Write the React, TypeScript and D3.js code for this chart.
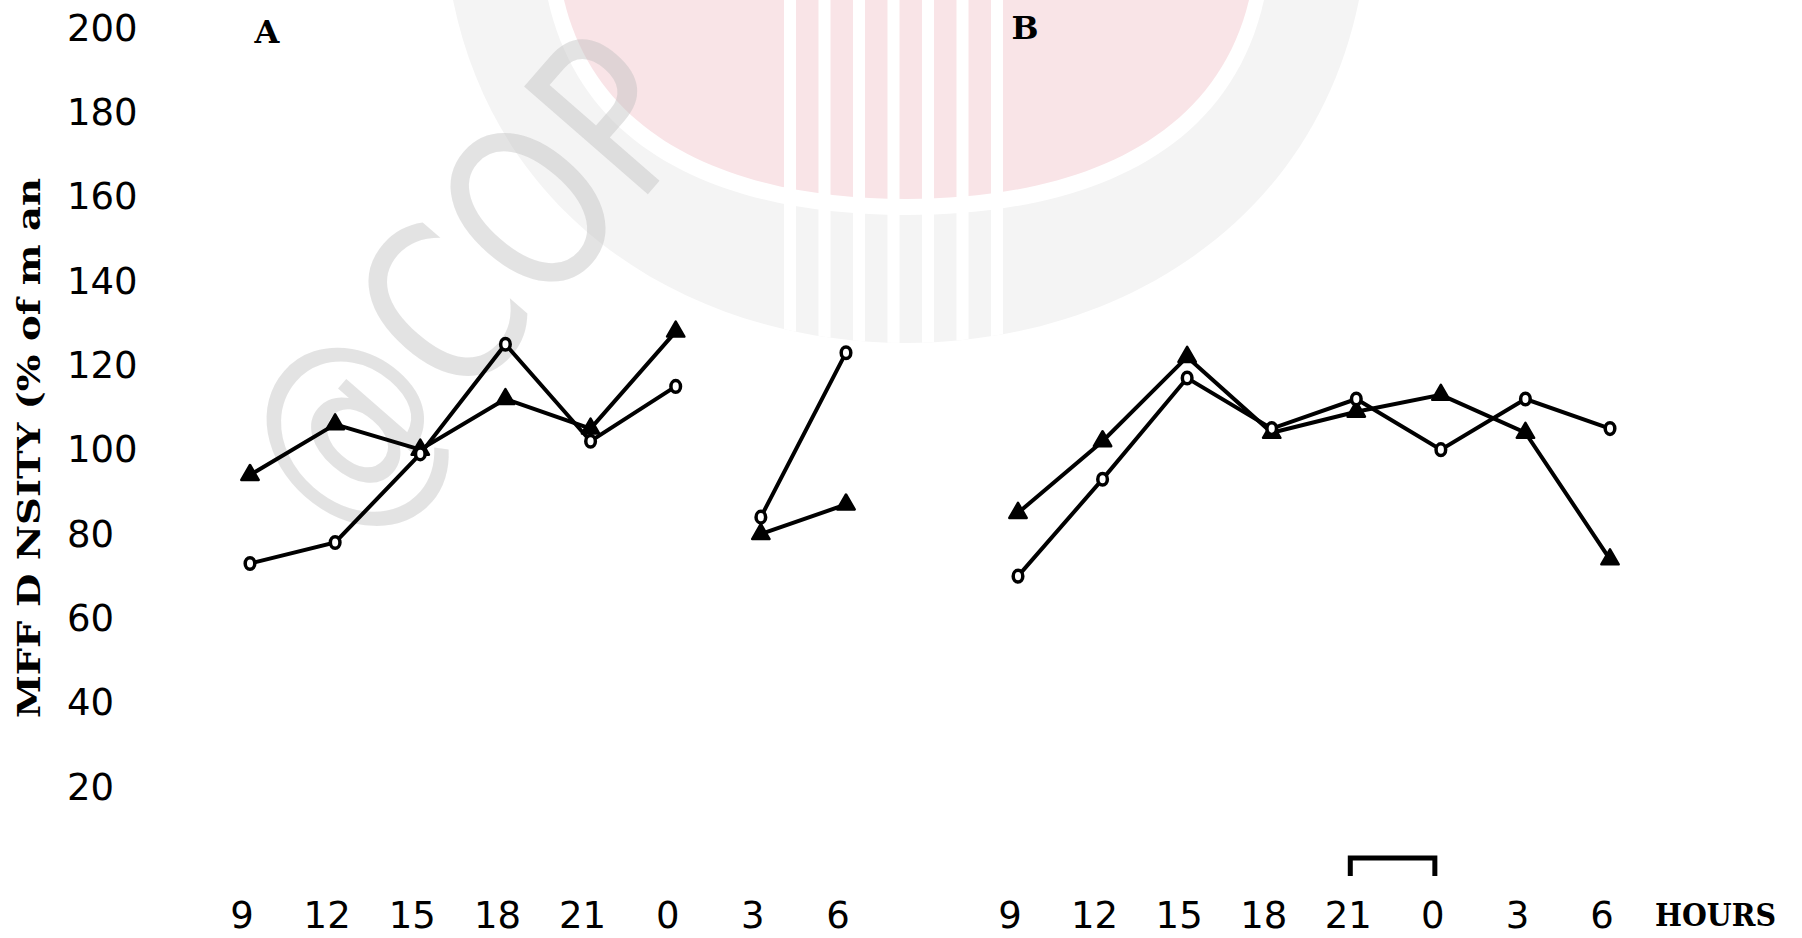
import * as d3 from 'd3'

// hour labels along the x axis (both panels)
const hours = ['9', '12', '15', '18', '21', '0', '3', '6']
const yTicks = [20, 40, 60, 80, 100, 120, 140, 160, 180, 200]

// panel A, line is broken between 0 and 3
const triA = [94, 106, 100, 112, 105, 128, 80, 87]
const circA = [73, 78, 99, 125, 102, 115, 84, 123]
const breakA = ['0']

// panel B
const triB = [85, 102, 122, 104, 109, 113, 104, 74]
const circB = [70, 93, 117, 105, 112, 100, 112, 105]
const breakB: string[] = []

const yTitle = 'MFF D NSITY (% of m an'
const hoursTitle = 'HOURS'
const wmText = '@COP'

const W = 1802
const H = 938

const y = d3.scaleLinear().domain([20, 200]).range([787, 28])
const xA = d3.scalePoint<string>().domain(hours).range([250, 846])
const xB = d3.scalePoint<string>().domain(hours).range([1018, 1610])

const numFont = '"DejaVu Sans", sans-serif'
const typeFont = '"DejaVu Serif", "Liberation Serif", serif'

type Pt = [string, number]

// split a series into runs, cutting after each hour in breaks
function runs(vals: number[], breaks: string[]): Pt[][] {
  const out: Pt[][] = [[]]
  hours.forEach((h, i) => {
    out[out.length - 1].push([h, vals[i]])
    if (breaks.includes(h) && i < hours.length - 1) out.push([])
  })
  return out
}

const triPath = d3.symbol().type(d3.symbolTriangle).size(130)()

function Panel({ x, tri, circ, breaks }: { x: d3.ScalePoint<string>; tri: number[]; circ: number[]; breaks: string[] }) {
  const line = d3
    .line<Pt>()
    .x((d) => x(d[0]) as number)
    .y((d) => y(d[1]))
  return (
    <g>
      {[tri, circ].map((s, k) =>
        runs(s, breaks).map((r, j) => (
          <path key={k + '-' + j} d={line(r) || ''} fill="none" stroke="#000" strokeWidth={4} strokeLinecap="round" />
        ))
      )}
      {tri.map((v, i) => (
        <path key={'t' + i} d={triPath || ''} transform={`translate(${x(hours[i])},${y(v)})`} fill="#000" stroke="#000" strokeWidth={2.5} strokeLinejoin="round" />
      ))}
      {circ.map((v, i) => (
        <ellipse key={'c' + i} cx={x(hours[i])} cy={y(v)} rx={4.8} ry={5.8} fill="#fff" stroke="#000" strokeWidth={3.5} />
      ))}
      {hours.map((h) => (
        <text key={'x' + h} x={(x(h) as number) - 8} y={915} textAnchor="middle" dominantBaseline="central" fontFamily={numFont} fontSize={37}>
          {h}
        </text>
      ))}
    </g>
  )
}

// faint shield watermark behind the chart
function shield(l: number, r: number, bottom: number, cx: number, cy: number) {
  const m = (l + r) / 2
  return `M${l},0C${l + cx},${cy} ${m - (m - l) * 0.45},${bottom} ${m},${bottom}C${m + (r - m) * 0.45},${bottom} ${r - cx},${cy} ${r},0Z`
}

function Watermark() {
  const stripes = d3.range(7).map((i) => 784 + i * 34.5)
  const outer = shield(453, 1359, 343, 47, 230)
  return (
    <g>
      <defs>
        <clipPath id="wm-clip">
          <path d={outer} />
        </clipPath>
      </defs>
      <path d={outer} fill="#f4f4f4" />
      <path d={shield(548, 1264, 215, 37, 165)} fill="#fff" />
      <path d={shield(564, 1249, 199, 36, 150)} fill="#f9e4e7" />
      <g clipPath="url(#wm-clip)">
        {stripes.map((s) => (
          <rect key={s} x={s} y={0} width={12} height={400} fill="#fff" />
        ))}
      </g>
      <text
        transform="translate(284,494) rotate(-49) scale(1,1.25)"
        fontFamily={numFont}
        fontSize={180}
        dominantBaseline="central"
        fill="#bdbdbd"
        fillOpacity={0.42}
      >
        {wmText}
      </text>
    </g>
  )
}

export default function App() {
  const b0 = (xB('21') as number) - 6
  const b1 = (xB('0') as number) - 6
  return (
    <svg width={W} height={H} style={{ position: 'absolute', left: 0, top: 0, display: 'block', background: '#fff' }}>
      <rect width={W} height={H} fill="#fff" />
      <Watermark />

      {yTicks.map((t) => (
        <text key={t} x={67} y={y(t)} dominantBaseline="central" fontFamily={numFont} fontSize={37}>
          {t}
        </text>
      ))}
      <text
        transform="translate(29,448) rotate(-90)"
        textAnchor="middle"
        dominantBaseline="central"
        fontFamily={typeFont}
        fontWeight="bold"
        fontSize={32}
        textLength={540}
        lengthAdjust="spacingAndGlyphs"
      >
        {yTitle}
      </text>

      <text x={267} y={32} textAnchor="middle" dominantBaseline="central" fontFamily={typeFont} fontWeight="bold" fontSize={32}>
        A
      </text>
      <text x={1025} y={28} textAnchor="middle" dominantBaseline="central" fontFamily={typeFont} fontWeight="bold" fontSize={32}>
        B
      </text>

      <Panel x={xA} tri={triA} circ={circA} breaks={breakA} />
      <Panel x={xB} tri={triB} circ={circB} breaks={breakB} />

      <path d={`M${b0},876V858H${b1}V876`} fill="none" stroke="#000" strokeWidth={5} />
      <text x={1655} y={915} dominantBaseline="central" fontFamily={typeFont} fontWeight="bold" fontSize={32} textLength={121} lengthAdjust="spacingAndGlyphs">
        {hoursTitle}
      </text>
    </svg>
  )
}
